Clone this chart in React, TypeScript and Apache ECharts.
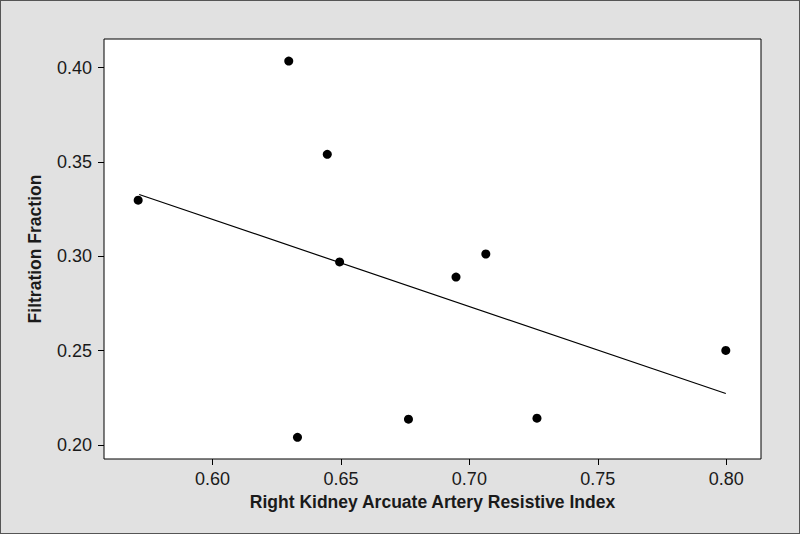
import React, { useEffect, useRef } from "react";
import * as echarts from "echarts";

const resistiveIndex = [0.5711, 0.6297, 0.6447, 0.6495, 0.6331, 0.6763, 0.6948, 0.7064, 0.7263, 0.7998];
const filtrationFraction = [0.3297, 0.4034, 0.354, 0.297, 0.2041, 0.2137, 0.289, 0.3012, 0.2142, 0.2501];
const fitLineX = [0.5715, 0.7998];
const fitLineY = [0.3327, 0.2273];
const xTicks = [0.6, 0.65, 0.7, 0.75, 0.8];
const yTicks = [0.2, 0.25, 0.3, 0.35, 0.4];

export default function App() {
  const ref = useRef<HTMLDivElement>(null);
  useEffect(() => {
    if (!ref.current) return;
    const chart = echarts.init(ref.current, null, { renderer: "svg" });
    const textColor = "#1a1a1a";
    chart.setOption({
      animation: false,
      backgroundColor: "#e1e1e1",
      grid: { left: 103, right: 38, top: 38, bottom: 74, show: true, backgroundColor: "#ffffff", borderColor: "#000000", borderWidth: 1 },
      xAxis: {
        type: "value",
        min: 0.5578,
        max: 0.8135,
        name: "Right Kidney Arcuate Artery Resistive Index",
        nameLocation: "middle",
        nameGap: 34,
        nameTextStyle: { fontFamily: "Liberation Sans, Arial", fontSize: 17.5, fontWeight: "bold", color: textColor },
        splitLine: { show: false },
        axisLine: { show: false },
        axisTick: { show: true, length: 6, inside: false, customValues: xTicks, lineStyle: { color: "#000" } },
        axisLabel: {
          customValues: xTicks,
          formatter: (v: number) => v.toFixed(2),
          fontFamily: "Liberation Sans, Arial",
          fontSize: 18,
          color: textColor,
          margin: 11,
        },
      },
      yAxis: {
        type: "value",
        min: 0.1926,
        max: 0.4151,
        name: "Filtration Fraction",
        nameLocation: "middle",
        nameGap: 60,
        nameTextStyle: { fontFamily: "Liberation Sans, Arial", fontSize: 17.5, fontWeight: "bold", color: textColor },
        splitLine: { show: false },
        axisLine: { show: false },
        axisTick: { show: true, length: 6, inside: false, customValues: yTicks, lineStyle: { color: "#000" } },
        axisLabel: {
          customValues: yTicks,
          formatter: (v: number) => v.toFixed(2),
          fontFamily: "Liberation Sans, Arial",
          fontSize: 18,
          color: textColor,
          margin: 12,
        },
      },
      series: [
        {
          type: "line",
          data: fitLineX.map((x, i) => [x, fitLineY[i]]),
          showSymbol: false,
          lineStyle: { color: "#000000", width: 1.2 },
          z: 1,
        },
        {
          type: "scatter",
          data: resistiveIndex.map((x, i) => [x, filtrationFraction[i]]),
          symbol: "circle",
          symbolSize: 9,
          itemStyle: { color: "#000000", opacity: 1 },
          z: 2,
        },
      ],
    });
    return () => chart.dispose();
  }, []);
  return (
    <div
      ref={ref}
      style={{ position: "fixed", left: 0, top: 0, width: 800, height: 534, boxSizing: "border-box", border: "1px solid #555" }}
    />
  );
}
